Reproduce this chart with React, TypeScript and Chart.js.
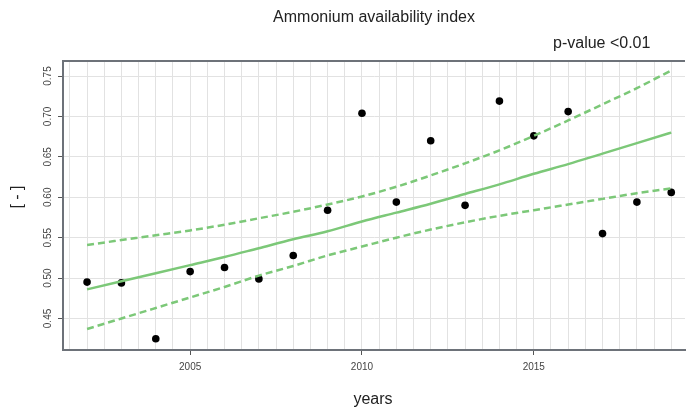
import React, { useEffect, useRef } from "react";
import { Chart, registerables } from "chart.js";

Chart.register(...registerables);

const years = [2002, 2003, 2004, 2005, 2006, 2007, 2008, 2009, 2010, 2011, 2012, 2013, 2014, 2015, 2016, 2017, 2018, 2019];
const observed = [0.495, 0.494, 0.425, 0.508, 0.513, 0.499, 0.528, 0.584, 0.704, 0.594, 0.670, 0.590, 0.719, 0.676, 0.706, 0.555, 0.594, 0.606];
const fitted = [0.486, 0.496, 0.506, 0.516, 0.526, 0.537, 0.548, 0.558, 0.570, 0.581, 0.592, 0.604, 0.616, 0.629, 0.641, 0.654, 0.667, 0.680];
const upperCI = [0.541, 0.547, 0.553, 0.559, 0.566, 0.574, 0.582, 0.591, 0.601, 0.613, 0.627, 0.642, 0.658, 0.676, 0.695, 0.715, 0.735, 0.757];
const lowerCI = [0.437, 0.450, 0.463, 0.476, 0.489, 0.503, 0.515, 0.528, 0.539, 0.550, 0.560, 0.569, 0.577, 0.584, 0.591, 0.598, 0.605, 0.611];
const yTickValues = [0.45, 0.5, 0.55, 0.6, 0.65, 0.7, 0.75];
const xLabelYears = [2005, 2010, 2015];

const titleText = "Ammonium availability index";
const pValueText = "p-value <0.01";
const xAxisTitle = "years";
const yAxisTitle = "[ - ]";

const FONT = "'Liberation Sans', Arial, Helvetica, sans-serif";
const GREEN = "#7cc878";
const AXIS = "#6d7279";
const GRID = "#e2e2e2";

const toXY = (vals: number[]) => years.map((x, i) => ({ x, y: vals[i] }));

const textPlugin = {
  id: "rtext",
  afterDraw(chart: any) {
    const { ctx, chartArea, scales } = chart;
    ctx.save();
    // top border
    ctx.strokeStyle = AXIS;
    ctx.lineWidth = 2;
    ctx.beginPath();
    ctx.moveTo(chartArea.left - 1, chartArea.top);
    ctx.lineTo(chartArea.right, chartArea.top);
    ctx.stroke();

    ctx.fillStyle = "#222";
    ctx.font = `16px ${FONT}`;
    ctx.textAlign = "center";
    ctx.textBaseline = "alphabetic";
    ctx.fillText(titleText, (chartArea.left + chartArea.right) / 2, 21.5);
    ctx.textAlign = "left";
    ctx.fillText(pValueText, 553, 48);
    ctx.textAlign = "center";
    ctx.fillText(xAxisTitle, 373, 404);

    ctx.save();
    ctx.translate(18, 197);
    ctx.rotate(-Math.PI / 2);
    ctx.textBaseline = "middle";
    ctx.fillText(yAxisTitle, 0, 0);
    ctx.restore();

    ctx.fillStyle = "#444";
    ctx.font = `10px ${FONT}`;
    ctx.textBaseline = "middle";
    yTickValues.forEach((v) => {
      const py = scales.y.getPixelForValue(v);
      ctx.save();
      ctx.translate(48, py);
      ctx.rotate(-Math.PI / 2);
      ctx.textAlign = "center";
      ctx.fillText(v.toFixed(2), 0, 0);
      ctx.restore();
    });
    ctx.restore();
  },
};

export default function App() {
  const ref = useRef<HTMLCanvasElement>(null);
  useEffect(() => {
    if (!ref.current) return;
    const chart = new Chart(ref.current, {
      type: "scatter",
      data: {
        datasets: [
          {
            label: "upper",
            data: toXY(upperCI),
            showLine: true,
            borderColor: GREEN,
            borderWidth: 2.5,
            borderDash: [7, 4],
            pointRadius: 0,
            tension: 0.4,
            cubicInterpolationMode: "monotone",
          },
          {
            label: "lower",
            data: toXY(lowerCI),
            showLine: true,
            borderColor: GREEN,
            borderWidth: 2.5,
            borderDash: [7, 4],
            pointRadius: 0,
            cubicInterpolationMode: "monotone",
          },
          {
            label: "fit",
            data: toXY(fitted),
            showLine: true,
            borderColor: GREEN,
            borderWidth: 2.5,
            pointRadius: 0,
            cubicInterpolationMode: "monotone",
          },
          {
            label: "observed",
            data: toXY(observed),
            showLine: false,
            pointRadius: 3.8,
            pointBackgroundColor: "#000",
            pointBorderColor: "#000",
            pointBorderWidth: 0,
          },
        ],
      } as any,
      options: {
        animation: false,
        responsive: false,
        layout: { padding: { top: 61, left: 0, right: 0, bottom: 0 } },
        plugins: {
          legend: { display: false },
          tooltip: { enabled: false },
          title: { display: false },
        },
        scales: {
          x: {
            type: "linear",
            min: 2001.3,
            max: 2019.4,
            afterFit: (s: any) => {
              s.height = 61;
            },
            border: { display: true, color: AXIS, width: 2 },
            grid: {
              color: GRID,
              lineWidth: 1,
              drawTicks: true,
              tickLength: 5,
              tickWidth: 1,
              tickColor: (c: any) =>
                c.tick && xLabelYears.includes(c.tick.value) ? "#555" : "rgba(0,0,0,0)",
            },
            ticks: {
              stepSize: 0.5,
              autoSkip: false,
              maxRotation: 0,
              minRotation: 0,
              includeBounds: false,
              padding: 6,
              color: "#444",
              font: { size: 10, family: FONT },
              callback: (v: any) => (xLabelYears.includes(Number(v)) ? String(v) : ""),
            },
          },
          y: {
            type: "linear",
            min: 0.411,
            max: 0.7686,
            afterFit: (s: any) => {
              s.width = 63;
            },
            border: { display: true, color: AXIS, width: 2 },
            grid: {
              color: GRID,
              lineWidth: 1,
              drawTicks: true,
              tickLength: 5,
              tickColor: "#555",
            },
            ticks: {
              stepSize: 0.05,
              includeBounds: false,
              display: false,
            },
          },
        },
      } as any,
      plugins: [textPlugin],
    });
    return () => chart.destroy();
  }, []);
  return (
    <div style={{ position: "fixed", left: 0, top: 0, background: "#fff" }}>
      <canvas ref={ref} width={689} height={411} />
    </div>
  );
}
